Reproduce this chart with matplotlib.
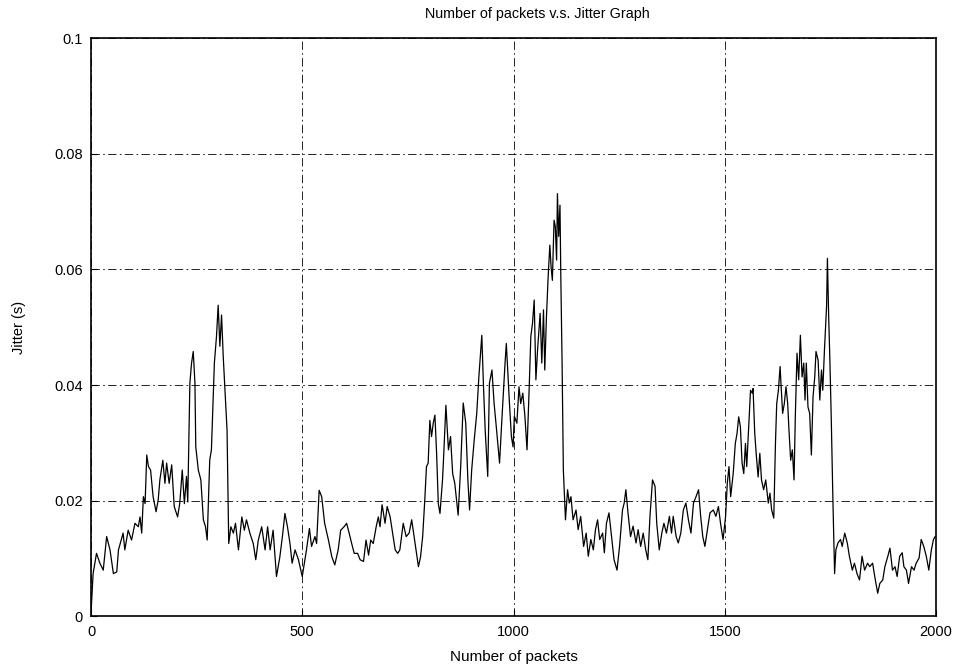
import numpy as np
import matplotlib
matplotlib.use("Agg")
import matplotlib.pyplot as plt

plt.rcParams['font.family'] = ['Liberation Sans', 'DejaVu Sans']

# Segment 1 (0-500)
packets_a = [0, 5, 13, 21, 29, 37, 45, 53, 61, 65, 76, 80, 88, 96, 104, 112, 116, 120, 124, 128,
             132, 136, 141, 147, 154, 159, 163, 170, 175, 179, 185, 191, 197, 205, 210, 216, 221, 226, 229, 234,
             238, 242, 246, 248, 254, 260, 266, 271, 275, 281, 285, 292, 297, 301, 305, 309, 313, 317, 322, 326,
             331, 337, 342, 349, 357, 363, 368, 376, 384, 390, 396, 404, 412, 418, 424, 431, 439, 447, 453, 459,
             465, 471, 476, 483, 491, 500]
jitter_a = [0.0005, 0.0074, 0.0109, 0.0092, 0.0080, 0.0138, 0.0115, 0.0074, 0.0077, 0.0115,
            0.0144, 0.0115, 0.0149, 0.0132, 0.0161, 0.0155, 0.0172, 0.0144, 0.0207, 0.0195,
            0.0279, 0.0259, 0.0253, 0.0207, 0.0181, 0.0201, 0.0236, 0.0270, 0.0230, 0.0265,
            0.0230, 0.0262, 0.0190, 0.0172, 0.0195, 0.0253, 0.0195, 0.0242, 0.0198, 0.0403,
            0.0438, 0.0458, 0.0403, 0.0293, 0.0253, 0.0236, 0.0167, 0.0155, 0.0132, 0.0270,
            0.0288, 0.0438, 0.0484, 0.0538, 0.0467, 0.0521, 0.0449, 0.0392, 0.0322, 0.0126,
            0.0155, 0.0144, 0.0161, 0.0115, 0.0172, 0.0149, 0.0167, 0.0144, 0.0126, 0.0098,
            0.0132, 0.0155, 0.0115, 0.0155, 0.0115, 0.0149, 0.0069, 0.0103, 0.0138, 0.0178,
            0.0155, 0.0126, 0.0092, 0.0115, 0.0098, 0.0069]

# Segment 2 (500-970)
packets_b = [510, 517, 522, 530, 534, 540, 546, 553, 562, 570, 577, 585, 591, 599, 605, 611, 617, 623, 631, 637,
             645, 651, 657, 662, 668, 675, 680, 684, 689, 696, 701, 708, 714, 720, 726, 731, 739, 746, 753, 759,
             767, 775, 780, 785, 790, 794, 798, 802, 806, 810, 814, 818, 822, 826, 832, 835, 840, 846, 851, 856,
             861, 869, 875, 881, 887, 892, 896, 901, 907, 913, 918, 925, 929, 933, 939, 943, 949, 954, 960, 967]
jitter_b = [0.0115, 0.0152, 0.0121, 0.0138, 0.0126, 0.0218, 0.0207, 0.0161, 0.0132, 0.0103,
            0.0089, 0.0115, 0.0149, 0.0155, 0.0161, 0.0144, 0.0126, 0.0109, 0.0109, 0.0098,
            0.0095, 0.0132, 0.0106, 0.0132, 0.0126, 0.0155, 0.0172, 0.0155, 0.0193, 0.0161,
            0.0190, 0.0172, 0.0144, 0.0115, 0.0109, 0.0115, 0.0161, 0.0138, 0.0144, 0.0167,
            0.0126, 0.0086, 0.0103, 0.0138, 0.0201, 0.0259, 0.0265, 0.0339, 0.0311, 0.0334,
            0.0348, 0.0282, 0.0195, 0.0178, 0.0236, 0.0282, 0.0365, 0.0288, 0.0311, 0.0247,
            0.0230, 0.0175, 0.0259, 0.0369, 0.0334, 0.0236, 0.0184, 0.0253, 0.0305, 0.0351,
            0.0414, 0.0486, 0.0397, 0.0322, 0.0242, 0.0403, 0.0426, 0.0369, 0.0322, 0.0265]

# Segment 3 (970-1455)
packets_c = [972, 980, 983, 990, 995, 999, 1002, 1008, 1013, 1017, 1022, 1027, 1032, 1037, 1041, 1045, 1049, 1053, 1057, 1063,
             1067, 1071, 1074, 1078, 1082, 1086, 1089, 1092, 1096, 1099, 1102, 1104, 1107, 1110, 1112, 1115, 1118, 1123, 1128, 1132,
             1136, 1141, 1148, 1153, 1159, 1166, 1172, 1177, 1183, 1189, 1194, 1199, 1204, 1211, 1215, 1220, 1226, 1232, 1238, 1245,
             1251, 1258, 1262, 1266, 1271, 1277, 1283, 1290, 1295, 1301, 1307, 1313, 1318, 1323, 1329, 1335, 1339, 1345, 1351, 1356,
             1362, 1369, 1374, 1378, 1385, 1390, 1396, 1402, 1408, 1414, 1420, 1426, 1432, 1438, 1443, 1448, 1453]
jitter_c = [0.0334, 0.0438, 0.0472, 0.0374, 0.0311, 0.0293, 0.0346, 0.0334, 0.0397, 0.0368,
            0.0386, 0.0346, 0.0288, 0.0392, 0.0484, 0.0507, 0.0547, 0.0409, 0.0461, 0.0524,
            0.0438, 0.0530, 0.0426, 0.0518, 0.0587, 0.0642, 0.0604, 0.0581, 0.0685, 0.0674,
            0.0616, 0.0731, 0.0657, 0.0711, 0.0587, 0.0438, 0.0253, 0.0167, 0.0219, 0.0196,
            0.0207, 0.0167, 0.0184, 0.0150, 0.0173, 0.0121, 0.0144, 0.0104, 0.0133, 0.0115,
            0.0150, 0.0167, 0.0133, 0.0144, 0.0110, 0.0161, 0.0179, 0.0138, 0.0098, 0.0080,
            0.0121, 0.0184, 0.0196, 0.0219, 0.0179, 0.0138, 0.0156, 0.0127, 0.0150, 0.0121,
            0.0144, 0.0115, 0.0098, 0.0173, 0.0236, 0.0225, 0.0161, 0.0115, 0.0144, 0.0161,
            0.0144, 0.0173, 0.0144, 0.0173, 0.0138, 0.0127, 0.0144, 0.0184, 0.0196, 0.0167,
            0.0144, 0.0196, 0.0207, 0.0219, 0.0173, 0.0138, 0.0121]

# Segment 4 (1455-2000)
packets_d = [1465, 1473, 1479, 1485, 1490, 1496, 1502, 1506, 1510, 1514, 1520, 1525, 1529, 1533, 1537, 1541, 1545, 1549, 1552, 1557,
             1561, 1565, 1567, 1571, 1575, 1579, 1583, 1587, 1592, 1597, 1603, 1607, 1611, 1616, 1620, 1623, 1627, 1631, 1633, 1637,
             1641, 1645, 1649, 1652, 1656, 1660, 1664, 1667, 1671, 1675, 1679, 1683, 1687, 1690, 1693, 1697, 1701, 1705, 1709, 1713,
             1716, 1721, 1725, 1729, 1732, 1736, 1741, 1743, 1746, 1749, 1752, 1756, 1760, 1763, 1768, 1774, 1778, 1784, 1790, 1795,
             1802, 1807, 1813, 1819, 1825, 1831, 1838, 1843, 1850, 1855, 1862, 1867, 1874, 1879, 1886, 1891, 1897, 1903, 1908, 1914,
             1920, 1924, 1930, 1935, 1942, 1948, 1953, 1960, 1965, 1971, 1977, 1983, 1989, 1994, 1998]
jitter_d = [0.0179, 0.0184, 0.0173, 0.0190, 0.0161, 0.0133, 0.0173, 0.0230, 0.0259, 0.0207,
            0.0247, 0.0299, 0.0316, 0.0345, 0.0328, 0.0265, 0.0247, 0.0299, 0.0259, 0.0334,
            0.0391, 0.0386, 0.0394, 0.0316, 0.0276, 0.0241, 0.0282, 0.0236, 0.0219, 0.0236,
            0.0196, 0.0213, 0.0184, 0.0170, 0.0299, 0.0368, 0.0391, 0.0432, 0.0403, 0.0351,
            0.0368, 0.0397, 0.0368, 0.0322, 0.0270, 0.0288, 0.0236, 0.0345, 0.0455, 0.0409,
            0.0486, 0.0414, 0.0438, 0.0374, 0.0438, 0.0362, 0.0351, 0.0279, 0.0380, 0.0414,
            0.0458, 0.0443, 0.0374, 0.0426, 0.0391, 0.0461, 0.0536, 0.0619, 0.0518, 0.0438,
            0.0345, 0.0201, 0.0074, 0.0115, 0.0127, 0.0133, 0.0121, 0.0144, 0.0127, 0.0104,
            0.0080, 0.0092, 0.0074, 0.0063, 0.0104, 0.0080, 0.0092, 0.0086, 0.0092, 0.0069,
            0.0040, 0.0057, 0.0063, 0.0086, 0.0104, 0.0118, 0.0080, 0.0086, 0.0069, 0.0104,
            0.0110, 0.0086, 0.0080, 0.0057, 0.0086, 0.0080, 0.0092, 0.0101, 0.0133, 0.0121,
            0.0104, 0.0080, 0.0115, 0.0133, 0.0138]

x_ticks = [0, 500, 1000, 1500, 2000]
x_tick_labels = ['0', '500', '1000', '1500', '2000']
y_ticks = [0, 0.02, 0.04, 0.06, 0.08, 0.1]
y_tick_labels = ['0', '0.02', '0.04', '0.06', '0.08', '0.1']

packets = np.concatenate([packets_a, packets_b, packets_c, packets_d])
jitter = np.concatenate([jitter_a, jitter_b, jitter_c, jitter_d])

fig = plt.figure(figsize=(9.57, 6.64), dpi=100)
ax = fig.add_axes([91 / 957, 1 - 616.4 / 664, 845 / 957, 578.4 / 664])

ax.plot(packets, jitter, color='black', lw=0.9)

ax.set_xlim(0, 2000)
ax.set_ylim(0, 0.1)
ax.set_xticks(x_ticks)
ax.set_xticklabels(x_tick_labels)
ax.set_yticks(y_ticks)
ax.set_yticklabels(y_tick_labels)
ax.tick_params(direction='in', length=4, width=0.8, labelsize=10.5, pad=6)
ax.grid(True, color='black', lw=0.6, linestyle=(0, (10, 4, 2, 4)))
for s in ax.spines.values():
    s.set_linewidth(1.2)

ax.set_xlabel('Number of packets', fontsize=11, labelpad=8)
ax.set_ylabel('Jitter (s)', fontsize=10.5, labelpad=20)
fig.text(537 / 957, 1 - 14 / 664, 'Number of packets v.s. Jitter Graph',
         ha='center', va='center', fontsize=10.3)

fig.savefig('out.png', dpi=100)
